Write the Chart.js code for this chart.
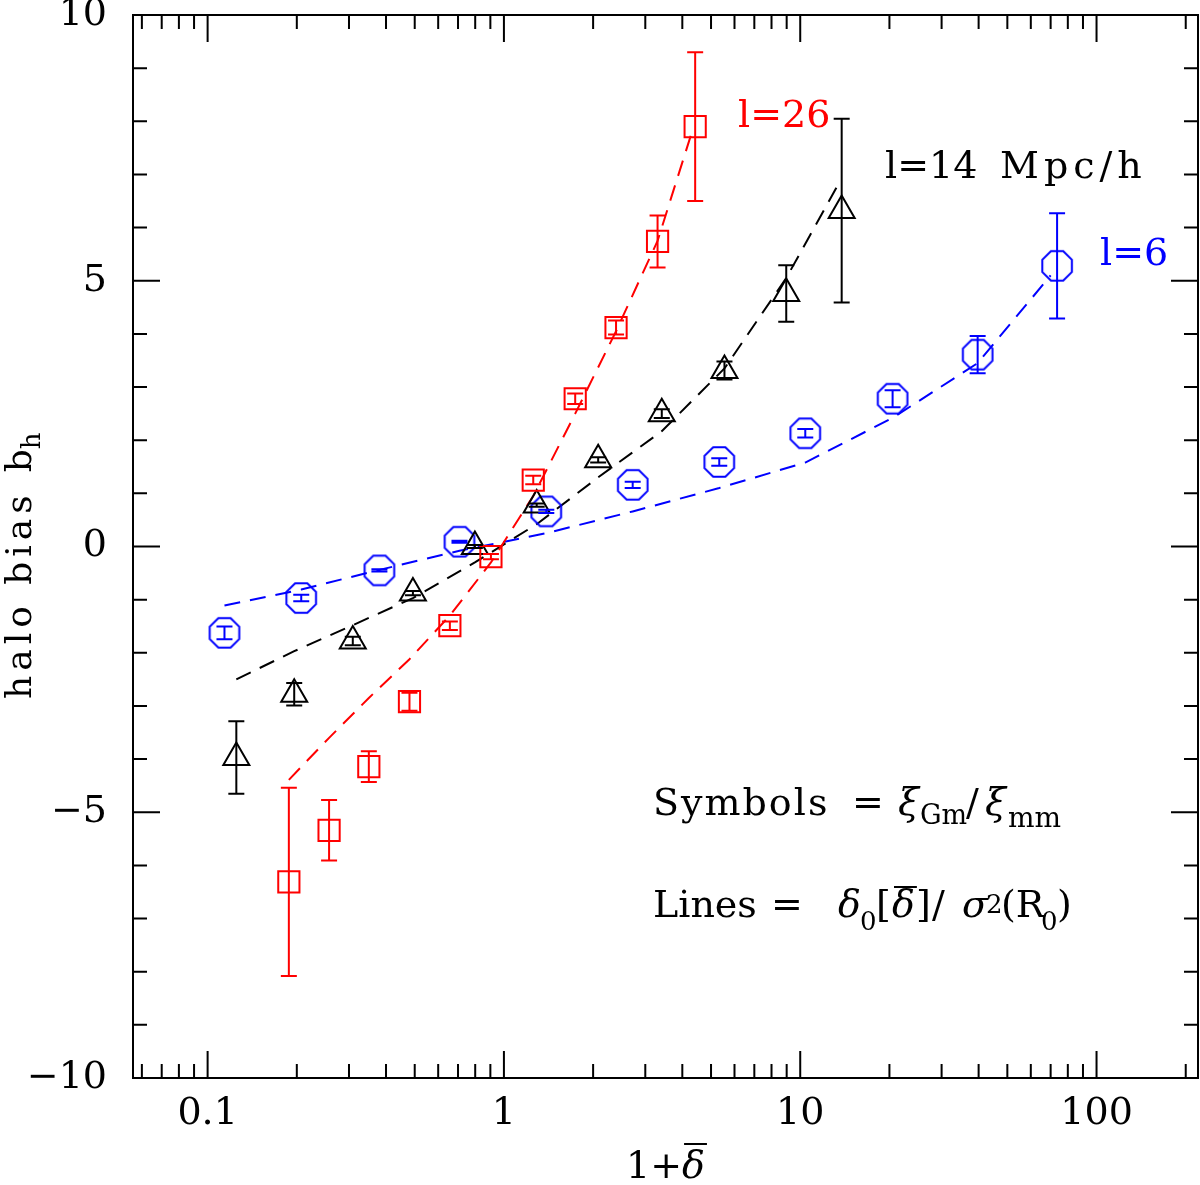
<!DOCTYPE html>
<html><head><meta charset="utf-8">
<script src="https://cdn.jsdelivr.net/npm/chart.js@4.4.0/dist/chart.umd.min.js"></script>
<style>html,body{margin:0;padding:0;background:#fff;}canvas{display:block;}</style>
</head><body>
<canvas id="c" width="1200" height="1185"></canvas>
<script>
// ---------- data ----------
const xTickValues = [0.1, 1, 10, 100];
const yTickValues = [-10, -5, 0, 5, 10];

// l = 26 (red squares)
const l26X   = [0.188, 0.257, 0.350, 0.480, 0.657, 0.904, 1.256, 1.74, 2.39, 3.30, 4.42];
const l26Y   = [-6.31, -5.34, -4.14, -2.92, -1.49, -0.19, 1.25, 2.78, 4.12, 5.74, 7.90];
const l26Err = [1.77, 0.57, 0.29, 0.17, 0.08, 0.05, 0.08, 0.10, 0.13, 0.49, 1.40];
const l26LineX = [0.188, 0.257, 0.350, 0.480, 0.657, 0.904, 1.256, 1.74, 2.39, 3.30, 4.35];
const l26LineY = [-4.39, -3.60, -2.85, -2.12, -1.30, -0.30, 0.95, 2.50, 4.05, 5.75, 7.87];

// l = 14 Mpc/h (black triangles)
const l14X   = [0.125, 0.196, 0.309, 0.493, 0.798, 1.29, 2.08, 3.41, 5.55, 8.97, 13.8];
const l14Y   = [-3.97, -2.78, -1.78, -0.875, 0.0, 0.78, 1.63, 2.50, 3.31, 4.76, 6.32];
const l14Err = [0.68, 0.21, 0.08, 0.04, 0.03, 0.03, 0.05, 0.08, 0.17, 0.53, 1.73];
const l14LineX = [0.125, 0.196, 0.309, 0.493, 0.798, 1.29, 2.08, 3.41, 5.55, 8.97, 13.7];
const l14LineY = [-2.50, -1.97, -1.48, -0.97, -0.30, 0.42, 1.30, 2.17, 3.35, 5.05, 6.90];

// l = 6 (blue circles)
const l6X   = [0.114, 0.207, 0.380, 0.708, 1.39, 2.72, 5.33, 10.4, 20.5, 39.7, 73.6];
const l6Y   = [-1.625, -0.97, -0.45, 0.09, 0.66, 1.16, 1.59, 2.13, 2.78, 3.61, 5.28];
const l6Err = [0.12, 0.06, 0.02, 0.02, 0.03, 0.06, 0.07, 0.08, 0.16, 0.35, 0.99];
const l6LineX = [0.114, 0.207, 0.380, 0.708, 1.39, 2.72, 5.33, 10.4, 20.5, 39.7, 70];
const l6LineY = [-1.11, -0.81, -0.44, -0.08, 0.25, 0.66, 1.10, 1.58, 2.42, 3.45, 5.10];

// ---------- helpers ----------
const RED = '#ff0000', BLUE = '#0000ff', BLACK = '#000000';
const FONT = '"DejaVu Serif", serif';
const pts = (xs, ys) => xs.map((x, i) => ({x: x, y: ys[i]}));

function octagon(color, r, lw) {
  const s = 2 * Math.ceil(r + lw + 2);
  const c = document.createElement('canvas');
  c.width = c.height = s;
  const g = c.getContext('2d');
  g.strokeStyle = color; g.lineWidth = lw;
  g.beginPath();
  for (let k = 0; k < 8; k++) {
    const ang = Math.PI / 8 + k * Math.PI / 4;
    const px = s / 2 + r * Math.cos(ang), py = s / 2 + r * Math.sin(ang);
    if (k) g.lineTo(px, py); else g.moveTo(px, py);
  }
  g.closePath(); g.stroke();
  return c;
}

const lineDS = (xs, ys, color) => ({
  type: 'line', data: pts(xs, ys), borderColor: color, borderWidth: 2,
  borderDash: [16, 10], pointRadius: 0, fill: false, tension: 0, order: 2
});
const symDS = (xs, ys, color, style) => ({
  type: 'scatter', data: pts(xs, ys), borderColor: color, borderWidth: 2,
  backgroundColor: 'rgba(0,0,0,0)', pointStyle: style, pointRadius: 15, order: 1
});

const errSets = [
  {xs: l26X, ys: l26Y, es: l26Err, color: RED},
  {xs: l14X, ys: l14Y, es: l14Err, color: BLACK},
  {xs: l6X,  ys: l6Y,  es: l6Err,  color: BLUE}
];

function rich(ctx, parts, color) {
  ctx.fillStyle = color; ctx.strokeStyle = color;
  ctx.textAlign = 'left'; ctx.textBaseline = 'alphabetic';
  for (const p of parts) {
    ctx.font = (p.it ? 'italic ' : '') + p.s + 'px ' + FONT;
    ctx.letterSpacing = (p.ls || 0) + 'px';
    ctx.fillText(p.t, p.x, p.y);
    if (p.bar) {
      const w = ctx.measureText(p.t).width;
      ctx.lineWidth = 2;
      ctx.beginPath(); ctx.moveTo(p.x + 2, p.bar); ctx.lineTo(p.x + w + 2, p.bar); ctx.stroke();
    }
  }
  ctx.letterSpacing = '0px';
}

const decor = {
  id: 'decor',
  afterDatasetsDraw(chart) {
    const {ctx, scales: {x, y}} = chart;
    ctx.save();
    ctx.lineWidth = 2;
    for (const s of errSets) {
      ctx.strokeStyle = s.color;
      s.xs.forEach((xv, i) => {
        const px = x.getPixelForValue(xv);
        const t = y.getPixelForValue(s.ys[i] + s.es[i]);
        const b = y.getPixelForValue(s.ys[i] - s.es[i]);
        ctx.beginPath();
        ctx.moveTo(px, t); ctx.lineTo(px, b);
        ctx.moveTo(px - 8, t); ctx.lineTo(px + 8, t);
        ctx.moveTo(px - 8, b); ctx.lineTo(px + 8, b);
        ctx.stroke();
      });
    }
    ctx.restore();
  },
  afterDraw(chart) {
    const {ctx, chartArea: a, scales: {x, y}} = chart;
    ctx.save();
    ctx.strokeStyle = BLACK; ctx.lineWidth = 2;
    ctx.strokeRect(a.left, a.top, a.right - a.left, a.bottom - a.top);
    ctx.beginPath();
    for (let v = -10; v <= 10; v++) {
      const py = y.getPixelForValue(v);
      const L = (v % 5 === 0) ? 27 : 14;
      ctx.moveTo(a.left, py); ctx.lineTo(a.left + L, py);
      ctx.moveTo(a.right, py); ctx.lineTo(a.right - L, py);
    }
    for (let e = -2; e <= 2; e++) {
      for (let k = 1; k <= 9; k++) {
        const v = k * Math.pow(10, e);
        if (v < x.min || v > x.max) continue;
        const px = x.getPixelForValue(v);
        const L = (k === 1) ? 27 : 14;
        ctx.moveTo(px, a.bottom); ctx.lineTo(px, a.bottom - L);
        ctx.moveTo(px, a.top); ctx.lineTo(px, a.top + L);
      }
    }
    ctx.stroke();

    // axis titles
    ctx.font = '38px ' + FONT;
    const w1 = ctx.measureText('1+').width;
    ctx.font = 'italic 38px ' + FONT;
    const w2 = ctx.measureText('δ').width;
    const x0 = (a.left + a.right) / 2 - (w1 + w2) / 2;
    rich(ctx, [
      {t: '1+', x: x0, y: 1178, s: 38},
      {t: 'δ', x: x0 + w1, y: 1178, s: 38, it: true, bar: 1144}
    ], BLACK);

    ctx.save();
    ctx.translate(31, 699);
    ctx.rotate(-Math.PI / 2);
    ctx.font = '36px ' + FONT;
    ctx.letterSpacing = '5px';
    const wh = ctx.measureText('halo bias').width;
    ctx.letterSpacing = '0px';
    rich(ctx, [
      {t: 'halo bias', x: 0, y: 0, s: 36, ls: 5},
      {t: 'b', x: wh + 18, y: 0, s: 36},
      {t: 'h', x: wh + 41, y: 9, s: 26}
    ], BLACK);
    ctx.restore();

    // annotations
    rich(ctx, [{t: 'l=26', x: 738, y: 127, s: 38}], RED);
    rich(ctx, [{t: 'l=14', x: 885, y: 178, s: 38}, {t: 'Mpc/h', x: 1000, y: 178, s: 38, ls: 5}], BLACK);
    rich(ctx, [{t: 'l=6', x: 1100, y: 265, s: 38}], BLUE);

    rich(ctx, [
      {t: 'Symbols', x: 653, y: 815, s: 38, ls: 2},
      {t: '=', x: 852, y: 815, s: 38},
      {t: 'ξ', x: 898, y: 815, s: 38, it: true},
      {t: 'Gm', x: 920, y: 824, s: 27},
      {t: '/', x: 966, y: 815, s: 38},
      {t: 'ξ', x: 985, y: 815, s: 38, it: true},
      {t: 'mm', x: 1008, y: 827, s: 28}
    ], BLACK);
    rich(ctx, [
      {t: 'Lines', x: 653, y: 917, s: 38},
      {t: '=', x: 771, y: 917, s: 38},
      {t: 'δ', x: 838, y: 917, s: 38, it: true},
      {t: '0', x: 860, y: 930, s: 26},
      {t: '[', x: 876, y: 917, s: 38},
      {t: 'δ', x: 892, y: 917, s: 38, it: true, bar: 887},
      {t: ']', x: 916, y: 917, s: 38},
      {t: '/', x: 932, y: 917, s: 38},
      {t: 'σ', x: 962, y: 917, s: 38, it: true},
      {t: '2', x: 986, y: 913, s: 26},
      {t: '(R', x: 1001, y: 917, s: 38},
      {t: '0', x: 1041, y: 930, s: 26},
      {t: ')', x: 1057, y: 917, s: 38}
    ], BLACK);
    ctx.restore();
  }
};

const fixPad = s => { s.paddingLeft = 0; s.paddingRight = 0; s.paddingTop = 0; s.paddingBottom = 0; };

new Chart(document.getElementById('c'), {
  type: 'scatter',
  data: {
    datasets: [
      lineDS(l26LineX, l26LineY, RED),
      lineDS(l14LineX, l14LineY, BLACK),
      lineDS(l6LineX, l6LineY, BLUE),
      symDS(l26X, l26Y, RED, 'rect'),
      symDS(l14X, l14Y, BLACK, 'triangle'),
      symDS(l6X, l6Y, BLUE, octagon(BLUE, 16, 2))
    ]
  },
  options: {
    responsive: false, animation: false, devicePixelRatio: 1,
    layout: {autoPadding: false, padding: {left: 0, right: 2, top: 15, bottom: 0}},
    plugins: {legend: {display: false}, tooltip: {enabled: false}},
    scales: {
      x: {
        type: 'logarithmic', min: 0.056, max: 220,
        grid: {display: false, drawTicks: false}, border: {display: false},
        afterBuildTicks: s => { s.ticks = xTickValues.map(v => ({value: v})); },
        afterFit: s => { s.height = 107; fixPad(s); },
        ticks: {
          autoSkip: false, maxRotation: 0, padding: 0, color: BLACK,
          font: {family: FONT, size: 38, lineHeight: 1.9},
          callback: v => String(v)
        }
      },
      y: {
        type: 'linear', min: -10, max: 10,
        grid: {display: false, drawTicks: false}, border: {display: false},
        afterBuildTicks: s => { s.ticks = yTickValues.map(v => ({value: v})); },
        afterFit: s => { s.width = 133; fixPad(s); },
        ticks: {
          padding: 26, color: BLACK,
          font: {family: FONT, size: 38, lineHeight: 1},
          callback: v => (v < 0 ? '\u2212' + Math.abs(v) : String(v))
        }
      }
    }
  },
  plugins: [decor]
});
</script>
</body></html>
